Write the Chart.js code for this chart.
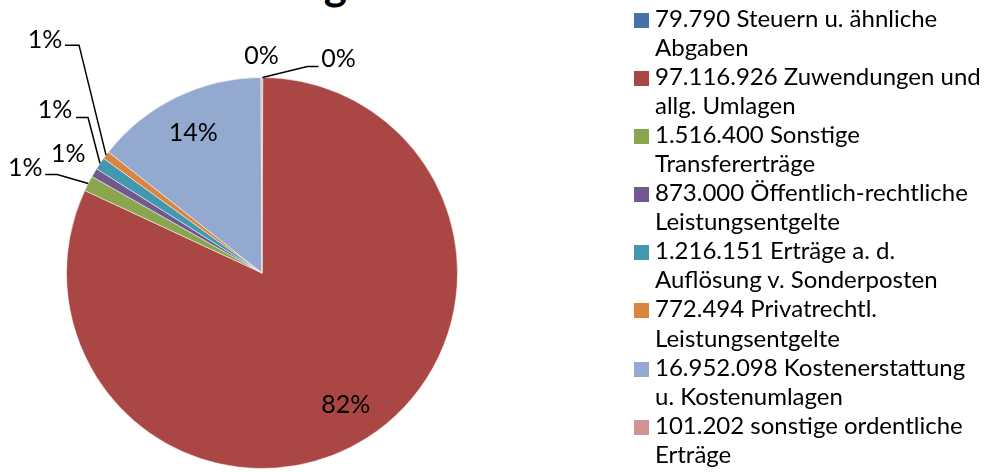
<!DOCTYPE html>
<html lang="de">
<head>
<meta charset="utf-8">
<title>Erträge</title>
<script src="https://cdn.jsdelivr.net/npm/chart.js@4.4.1/dist/chart.umd.min.js"></script>
<style>
    html, body { margin: 0; padding: 0; background: #fff; }
    body { width: 992px; height: 472px; position: relative; overflow: hidden; font-family: Lato, "Open Sans", sans-serif; color: #000; }
    #chart { position: absolute; left: 0; top: 0; }
    #title { position: absolute; right: 622px; top: -39px; font: bold 44px/44px Lato, sans-serif; white-space: nowrap; }
    #legend { position: absolute; left: 634px; top: 3px; }
    .lg-item { position: relative; padding-left: 21px; height: 58.1px; font-size: 24px; line-height: 29.05px; white-space: nowrap; }
    .lg-box { position: absolute; left: 0; top: 10px; width: 15px; height: 15px; }
</style>
</head>
<body>
<div id="title">Erträge</div>
<canvas id="chart" width="992" height="472"></canvas>
<div id="legend"></div>
<script>
// Ertragsarten (Name in zwei Zeilen, wie in der Legende umbrochen)
const categories = [
    ['Steuern u. ähnliche', 'Abgaben'],
    ['Zuwendungen und', 'allg. Umlagen'],
    ['Sonstige', 'Transfererträge'],
    ['Öffentlich-rechtliche', 'Leistungsentgelte'],
    ['Erträge a. d.', 'Auflösung v. Sonderposten'],
    ['Privatrechtl.', 'Leistungsentgelte'],
    ['Kostenerstattung', 'u. Kostenumlagen'],
    ['sonstige ordentliche', 'Erträge'],
];
const values = [79790, 97116926, 1516400, 873000, 1216151, 772494, 16952098, 101202];
const colors = ['#4572A7', '#AA4643', '#89A54E', '#71588F', '#4198AF', '#DB843D', '#93A9CF', '#D19392'];

// Lage der Prozent-Beschriftungen: inside = Anteil des Radius, sonst Versatz ab Kreisrand (+ Führungslinie)
const labelPlacement = [
    { dx: 76, dy: -19, line: [[45, -11], [56, -11]] },
    { inside: 0.8 },
    { dx: -63, dy: -16, line: [[-31, -9], [-43, -9]] },
    { dx: -26, dy: -19 },
    { dx: -45, dy: -54, line: [[-12, -46], [-24, -46]] },
    { dx: -61, dy: -115, line: [[-27, -110], [-41, -110]] },
    { inside: 0.8 },
    { dx: 0, dy: -22 },
];

const fmtDE = (n) => String(n).replace(/\B(?=(\d{3})+(?!\d))/g, '.');

const pctLabels = {
    id: 'pctLabels',
    afterDatasetsDraw(chart) {
        const ctx = chart.ctx;
        const data = chart.data.datasets[0].data;
        const total = data.reduce((a, b) => a + b, 0);
        const meta = chart.getDatasetMeta(0);
        ctx.save();
        ctx.font = '25px Lato, sans-serif';
        ctx.fillStyle = '#000';
        ctx.strokeStyle = '#000';
        ctx.lineWidth = 1.5;
        ctx.textAlign = 'center';
        ctx.textBaseline = 'middle';
        meta.data.forEach((arc, i) => {
            const p = labelPlacement[i];
            const mid = (arc.startAngle + arc.endAngle) / 2;
            const txt = Math.round(data[i] / total * 100) + '%';
            if (p.inside) {
                const r = arc.outerRadius * p.inside;
                ctx.fillText(txt, arc.x + Math.cos(mid) * r, arc.y + Math.sin(mid) * r);
                return;
            }
            const ex = arc.x + Math.cos(mid) * arc.outerRadius;
            const ey = arc.y + Math.sin(mid) * arc.outerRadius;
            if (p.line) {
                ctx.beginPath();
                ctx.moveTo(ex, ey);
                p.line.forEach(([lx, ly]) => ctx.lineTo(ex + lx, ey + ly));
                ctx.stroke();
            }
            ctx.fillText(txt, ex + p.dx, ey + p.dy);
        });
        ctx.restore();
    },
};

const chart = new Chart(document.getElementById('chart'), {
    type: 'pie',
    data: {
        labels: categories,
        datasets: [{
            data: values,
            backgroundColor: colors,
            borderColor: 'rgba(255,255,255,0.5)',
            borderWidth: 1,
        }],
    },
    options: {
        responsive: false,
        animation: false,
        layout: { padding: { left: 66, top: 77, right: 534, bottom: 3 } },
        plugins: { legend: { display: false }, tooltip: { enabled: false } },
    },
    plugins: [pctLabels],
});

// Legende als HTML, aus den Chart-Daten erzeugt
const legend = document.getElementById('legend');
chart.data.labels.forEach((lbl, i) => {
    const item = document.createElement('div');
    item.className = 'lg-item';
    const box = document.createElement('span');
    box.className = 'lg-box';
    box.style.background = colors[i];
    item.appendChild(box);
    const l1 = document.createElement('div');
    l1.textContent = fmtDE(values[i]) + ' ' + lbl[0];
    const l2 = document.createElement('div');
    l2.textContent = lbl[1];
    item.appendChild(l1);
    item.appendChild(l2);
    legend.appendChild(item);
});
</script>
</body>
</html>
